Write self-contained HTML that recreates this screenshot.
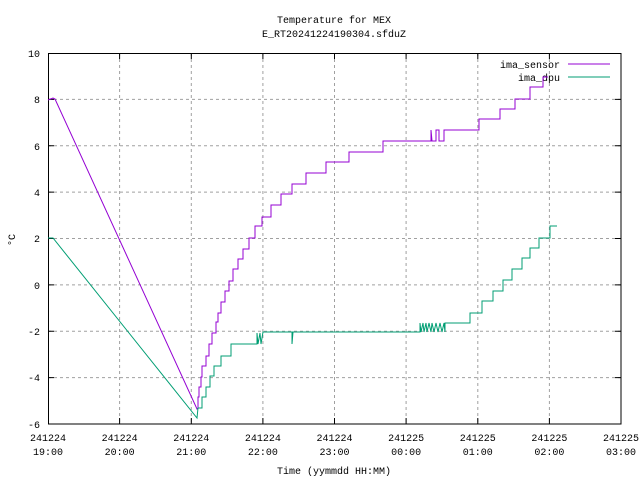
<!DOCTYPE html>
<html><head><style>body{margin:0;background:#fff}svg{display:block}text{font-family:"Liberation Mono",monospace;font-size:10px;fill:#000}</style></head><body>
<svg width="640" height="480" viewBox="0 0 640 480">
<rect width="640" height="480" fill="#fff"/>
<g stroke="#a0a0a0" stroke-dasharray="3,3" stroke-width="1">
<line x1="48" y1="99.4" x2="621" y2="99.4"/><line x1="48" y1="145.8" x2="621" y2="145.8"/><line x1="48" y1="192.1" x2="621" y2="192.1"/><line x1="48" y1="238.5" x2="621" y2="238.5"/><line x1="48" y1="284.9" x2="621" y2="284.9"/><line x1="48" y1="331.3" x2="621" y2="331.3"/><line x1="48" y1="377.6" x2="621" y2="377.6"/>
<line x1="119.6" y1="53" x2="119.6" y2="424"/><line x1="191.3" y1="53" x2="191.3" y2="424"/><line x1="262.9" y1="53" x2="262.9" y2="424"/><line x1="334.5" y1="53" x2="334.5" y2="424"/><line x1="406.1" y1="53" x2="406.1" y2="424"/><line x1="477.8" y1="53" x2="477.8" y2="424"/><line x1="549.4" y1="53" x2="549.4" y2="424"/>
</g>
<rect x="48.5" y="53.5" width="572.5" height="370.5" fill="none" stroke="#000"/>
<g stroke="#000">
<path d="M48 99.4h6M48 145.8h6M48 192.1h6M48 238.5h6M48 284.9h6M48 331.3h6M48 377.6h6M621 99.4h-6M621 145.8h-6M621 192.1h-6M621 238.5h-6M621 284.9h-6M621 331.3h-6M621 377.6h-6M119.6 424v-6M191.3 424v-6M262.9 424v-6M334.5 424v-6M406.1 424v-6M477.8 424v-6M549.4 424v-6M119.6 53v6M191.3 53v6M262.9 53v6M334.5 53v6M406.1 53v6M477.8 53v6M549.4 53v6"/>
</g>
<g text-anchor="end">
<text x="40" y="57">10</text><text x="40" y="103">8</text><text x="40" y="150">6</text><text x="40" y="196">4</text><text x="40" y="242">2</text><text x="40" y="289">0</text><text x="40" y="335">-2</text><text x="40" y="381">-4</text><text x="40" y="428">-6</text>
</g>
<g text-anchor="middle">
<text x="48" y="441">241224</text><text x="48" y="455">19:00</text>
<text x="119.6" y="441">241224</text><text x="119.6" y="455">20:00</text>
<text x="191.3" y="441">241224</text><text x="191.3" y="455">21:00</text>
<text x="262.9" y="441">241224</text><text x="262.9" y="455">22:00</text>
<text x="334.5" y="441">241224</text><text x="334.5" y="455">23:00</text>
<text x="406.1" y="441">241225</text><text x="406.1" y="455">00:00</text>
<text x="477.8" y="441">241225</text><text x="477.8" y="455">01:00</text>
<text x="549.4" y="441">241225</text><text x="549.4" y="455">02:00</text>
<text x="621" y="441">241225</text><text x="621" y="455">03:00</text>
<text x="334" y="23">Temperature for MEX</text>
<text x="334" y="37">E_RT20241224190304.sfduZ</text>
<text x="334" y="474">Time (yymmdd HH:MM)</text>
<text x="15" y="240" transform="rotate(-90 15 240)">°C</text>
</g>
<text x="560" y="68" text-anchor="end">ima_sensor</text>
<text x="560" y="81" text-anchor="end">ima_dpu</text>
<line x1="568" y1="64" x2="610" y2="64" stroke="#9400d3"/>
<line x1="568" y1="77" x2="610" y2="77" stroke="#009e73"/>
<g fill="none" stroke-width="1">
<polyline stroke="#9400d3" points="48,100 53,98 55,99 197,409 198,408 198,397 199,397 199,387 201,387 201,377 202,377 202,366 206,366 206,356 209,356 209,344 212,344 212,333 216,333 216,322 218,322 218,313 221,313 221,302 225,302 225,291 229,291 229,281 233,281 233,269 238,269 238,259 243,259 243,249 249,249 249,238 255,238 255,226 262,226 262,217 271,217 271,205 281,205 281,194 292,194 292,184 306,184 306,173 326,173 326,162 349,162 349,152 383,152 383,141 431,141 431,130 432,141 436,141 436,130 439,130 439,141 444,141 444,130 479,130 479,119 500,119 500,109 515,109 515,99 530,99 530,87 543,87 543,77 548,77"/>
<polyline stroke="#009e73" points="48,238 53,238 197,418 198,408 202,408 202,397 206,397 206,387 210,387 210,376 214,376 214,366 221,366 221,356 231,356 231,344 257,344 257,333 258,344 260,333 261,344 263,332 292,332 292,344 293,332 420,332 420,323 421,332 423,323 424,332 426,323 427,332 429,323 431,332 432,323 434,332 436,323 438,332 440,323 442,332 444,323 445,332 445,323 470,323 470,313 482,313 482,301 493,301 493,291 503,291 503,280 512,280 512,269 522,269 522,258 530,258 530,248 539,248 539,238 550,238 550,226 557,226"/>
</g>
</svg>
</body></html>
